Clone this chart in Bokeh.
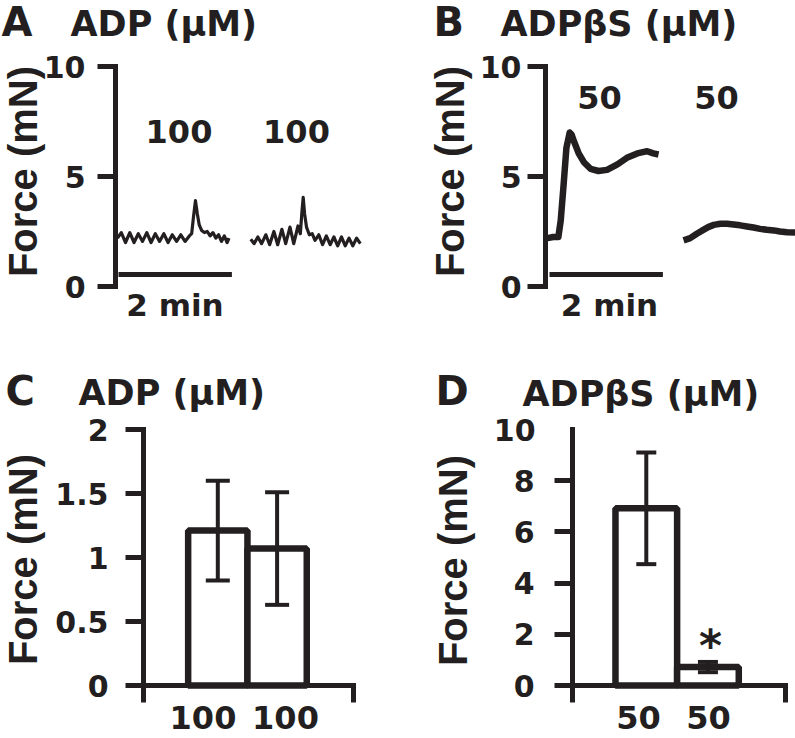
import math
from bokeh.plotting import figure
from bokeh.models import (Range1d, FixedTicker, Label, Whisker, TeeHead,
                          ColumnDataSource, CustomJSTickFormatter)
from bokeh.layouts import column, row
from bokeh.embed import file_html
from bokeh.resources import INLINE

# ---------------- data ----------------
# Panel A: ADP 100 uM force traces (time s, force mN)
A1_T = [0, 4, 8.5, 13, 17.5, 22, 26.5, 31, 35.5, 40, 44.5, 49, 53.5, 58, 62.5, 67,
        71.5, 76, 78.5, 80.5, 82.5, 84.5, 86.5, 89, 92, 95, 98, 101, 104, 107, 110,
        113, 116, 118]
A1_F = [2.2, 2.45, 2.0, 2.45, 2.0, 2.4, 2.05, 2.45, 2.0, 2.4, 2.05, 2.4, 2.0, 2.35,
        2.05, 2.35, 2.05, 2.3, 2.4, 3.2, 3.9, 3.3, 2.8, 2.55, 2.45, 2.5, 2.3, 2.45,
        2.2, 2.35, 2.05, 2.3, 2.0, 2.2]
A2_T = [141, 144.5, 148.5, 152.5, 157, 161, 165.5, 169.5, 174, 178, 182.5, 186.5, 191,
        193.5, 195, 196.5, 198, 200, 203, 206, 209, 213, 217, 221, 225, 229, 233, 237,
        241, 245, 249, 253, 257]
A2_F = [2.15, 1.95, 2.25, 1.95, 2.35, 1.9, 2.5, 1.9, 2.6, 1.95, 2.7, 1.95, 2.75, 2.4,
        3.3, 4.05, 3.3, 2.7, 2.35, 2.4, 2.1, 2.35, 1.9, 2.3, 1.9, 2.25, 1.85, 2.25,
        1.85, 2.2, 1.85, 2.2, 1.95]
# Panel B: ADPbetaS 50 uM force traces
B1_T = [0, 6, 11.5, 14, 17, 20, 23.5, 25.5, 28, 33, 38.5, 45.5, 54, 63, 74, 84, 95,
        105.5, 112, 117.5]
B1_F = [2.2, 2.25, 2.25, 3.0, 4.6, 6.3, 7.0, 6.9, 6.6, 6.05, 5.65, 5.35, 5.25, 5.3,
        5.55, 5.85, 6.05, 6.15, 6.05, 6.0]
B2_T = [144, 151, 158, 164, 170, 176, 183, 190, 197, 204, 211, 218, 225, 232, 239.5,
        246, 253.5, 262]
B2_F = [2.1, 2.2, 2.4, 2.55, 2.7, 2.8, 2.85, 2.85, 2.82, 2.78, 2.73, 2.68, 2.62, 2.58,
        2.55, 2.5, 2.47, 2.45]
A_TRACE_LABELS = ["100", "100"]
B_TRACE_LABELS = ["50", "50"]
SCALE_BAR_S = 120          # 2 min
SCALE_BAR_LABEL = "2 min"
TRACE_YTICKS = [0, 5, 10]

# Panel C: ADP summary
C_CATS = ["100", "100"]
C_MEAN = [1.21, 1.07]
C_SEM = [0.39, 0.44]
C_YTICKS = [0, 0.5, 1, 1.5, 2]
# Panel D: ADPbetaS summary
D_CATS = ["50", "50"]
D_MEAN = [6.92, 0.72]
D_SEM = [2.18, 0.20]
D_YTICKS = [0, 2, 4, 6, 8]
D_TOP_LABEL = "10"
D_SIG = "*"

YLABEL = "Force (mN)"

# ---------------- style ----------------
INK = "#231f20"
TXT = "DejaVu Sans"
YLAB_FONT = "Liberation Sans"
PX_PER_S = 0.945
BASE_SHIFT = 0.34   # label anchor sits this many em above the wanted baseline


class Geo:
    """canvas and axis frame in page pixels, plus the data ranges of that frame"""
    def __init__(self, canvas, frame, xr, yr):
        self.cx, self.cy, self.cw, self.ch = canvas
        self.fl, self.ft, self.fr, self.fb = frame
        self.xr, self.yr = xr, yr

    def x(self, px):
        return self.xr[0] + (px - self.fl) * (self.xr[1] - self.xr[0]) / (self.fr - self.fl)

    def y(self, py):
        return self.yr[0] + (self.fb - py) * (self.yr[1] - self.yr[0]) / (self.fb - self.ft)


def make_fig(g, xaxis):
    p = figure(width=g.cw, height=g.ch, title=None,
               x_range=Range1d(g.x(g.cx), g.x(g.cx + g.cw)),
               y_range=Range1d(g.y(g.cy + g.ch), g.y(g.cy)),
               output_backend="svg", toolbar_location=None, tools="",
               x_axis_location="below" if xaxis else None, y_axis_location="left",
               min_border=0)
    p.outline_line_color = None
    p.background_fill_color = "white"
    p.border_fill_color = "white"
    p.xgrid.grid_line_color = None
    p.ygrid.grid_line_color = None
    return p


def style_yaxis(p, g, ticks, standoff):
    ax = p.yaxis[0]
    ax.fixed_location = g.xr[0]
    ax.bounds = (g.yr[0], g.yr[1])
    ax.ticker = FixedTicker(ticks=ticks)
    ax.formatter = CustomJSTickFormatter(code="return String(tick)")
    ax.axis_line_width = 5
    ax.axis_line_color = INK
    ax.axis_line_cap = "square"
    ax.major_tick_line_width = 5
    ax.major_tick_line_color = INK
    ax.major_tick_out = 18
    ax.major_tick_in = 0
    ax.minor_tick_line_color = None
    ax.major_label_text_font = TXT
    ax.major_label_text_font_style = "bold"
    ax.major_label_text_font_size = "30px"
    ax.major_label_text_color = INK
    ax.major_label_standoff = standoff


def style_xaxis_edges(p, g):
    ax = p.xaxis[0]
    ax.fixed_location = 0
    ax.bounds = (g.xr[0], g.xr[1])
    ax.ticker = FixedTicker(ticks=[g.xr[0], g.xr[1]])
    ax.formatter = CustomJSTickFormatter(code="return ''")
    ax.axis_line_width = 5
    ax.axis_line_color = INK
    ax.axis_line_cap = "square"
    ax.major_tick_line_width = 5
    ax.major_tick_line_color = INK
    ax.major_tick_out = 17
    ax.major_tick_in = 0
    ax.minor_tick_line_color = None
    ax.major_label_text_font_size = "1px"
    ax.major_label_standoff = 0


def add_text(p, g, px, baseline_py, text, size, align="left"):
    p.add_layout(Label(x=g.x(px), y=g.y(baseline_py - BASE_SHIFT * size), text=text,
                       text_font=TXT, text_font_style="bold",
                       text_font_size=f"{size}px", text_align=align,
                       text_baseline="alphabetic", text_color=INK))


def add_ylabel(p, g, center_px, center_py):
    p.add_layout(Label(x=g.x(center_px), y=g.y(center_py), text=YLABEL,
                       text_font=YLAB_FONT, text_font_style="bold",
                       text_font_size="40px", text_align="center",
                       text_baseline="middle", text_color=INK, angle=math.pi / 2))


# ---------------- panel A ----------------
gA = Geo((0, 0, 400, 330), (115, 66, 400, 286),
         ((115 - 117) / PX_PER_S, (400 - 117) / PX_PER_S), (0, 10))
pA = make_fig(gA, False)
style_yaxis(pA, gA, TRACE_YTICKS, 12)
pA.line(A1_T, A1_F, line_color=INK, line_width=3.2, line_join="round")
pA.line(A2_T, A2_F, line_color=INK, line_width=3.2, line_join="round")
tA0 = gA.x(118)
pA.line([tA0, tA0 + SCALE_BAR_S], [gA.y(274)] * 2, line_color=INK, line_width=5)
add_text(pA, gA, 1, 35, "A", 40)
add_text(pA, gA, 70, 35, "ADP (μM)", 35)
for lab, cx in zip(A_TRACE_LABELS, [178.5, 296]):
    add_text(pA, gA, cx, 142, lab, 32, "center")
add_text(pA, gA, 174.5, 315, SCALE_BAR_LABEL, 31, "center")
add_ylabel(pA, gA, 22, 171)

# ---------------- panel B ----------------
gB = Geo((400, 0, 395, 330), (545, 66, 795, 286),
         ((545 - 547) / PX_PER_S, (795 - 547) / PX_PER_S), (0, 10))
pB = make_fig(gB, False)
style_yaxis(pB, gB, TRACE_YTICKS, 6)
pB.line(B1_T, B1_F, line_color=INK, line_width=6.5, line_join="round")
pB.line(B2_T, B2_F, line_color=INK, line_width=6.5, line_join="round")
tB0 = gB.x(549)
pB.line([tB0, tB0 + SCALE_BAR_S], [gB.y(274)] * 2, line_color=INK, line_width=5)
add_text(pB, gB, 433, 35, "B", 40)
add_text(pB, gB, 500, 35, "ADPβS (μM)", 35)
for lab, cx in zip(B_TRACE_LABELS, [599, 716]):
    add_text(pB, gB, cx, 108, lab, 32, "center")
add_text(pB, gB, 609, 315, SCALE_BAR_LABEL, 31, "center")
add_ylabel(pB, gB, 449, 171)


# ---------------- bar panels ----------------
def bar_panel(g, cats, mean, sem, yticks, standoff, cap, label_px):
    p = make_fig(g, True)
    style_yaxis(p, g, yticks, standoff)
    style_xaxis_edges(p, g)
    xs = [i + 1 for i in range(len(cats))]
    src = ColumnDataSource(dict(x=xs, mean=mean,
                                upper=[m + s for m, s in zip(mean, sem)],
                                lower=[m - s for m, s in zip(mean, sem)]))
    p.vbar(x="x", top="mean", bottom=0, width=1.0, source=src,
           fill_color="white", line_color=INK, line_width=6.5)
    w = Whisker(base="x", upper="upper", lower="lower", source=src,
                line_color=INK, line_width=4, level="overlay",
                upper_head=TeeHead(size=cap, line_color=INK, line_width=4),
                lower_head=TeeHead(size=cap, line_color=INK, line_width=4))
    p.add_layout(w)
    for lab, cx in zip(cats, label_px):
        add_text(p, g, cx, 728, lab, 32, "center")
    return p


gC = Geo((0, 330, 400, 408), (143, 429, 353, 685), (-0.253, -0.253 + 210 / 59.3), (0, 2))
pC = bar_panel(gC, C_CATS, C_MEAN, C_SEM, C_YTICKS, 17, 24, [202.5, 285])
add_text(pC, gC, 5, 404, "C", 40)
add_text(pC, gC, 78, 404, "ADP (μM)", 35)
add_ylabel(pC, gC, 22.5, 559)

gD = Geo((400, 330, 395, 408), (572, 429, 785, 685), (-0.197, -0.197 + 213 / 61.65), (0, 10))
pD = bar_panel(gD, D_CATS, D_MEAN, D_SEM, D_YTICKS, 20, 20, [638, 708])
add_text(pD, gD, 435, 404, "D", 40)
add_text(pD, gD, 522, 405, "ADPβS (μM)", 35)
add_text(pD, gD, 535, 440, D_TOP_LABEL, 30, "right")
add_text(pD, gD, 710, 660, D_SIG, 44, "center")
add_ylabel(pD, gD, 452.5, 560)

layout = column(row(pA, pB), row(pC, pD))
open("out.html", "w").write(file_html(layout, INLINE))
